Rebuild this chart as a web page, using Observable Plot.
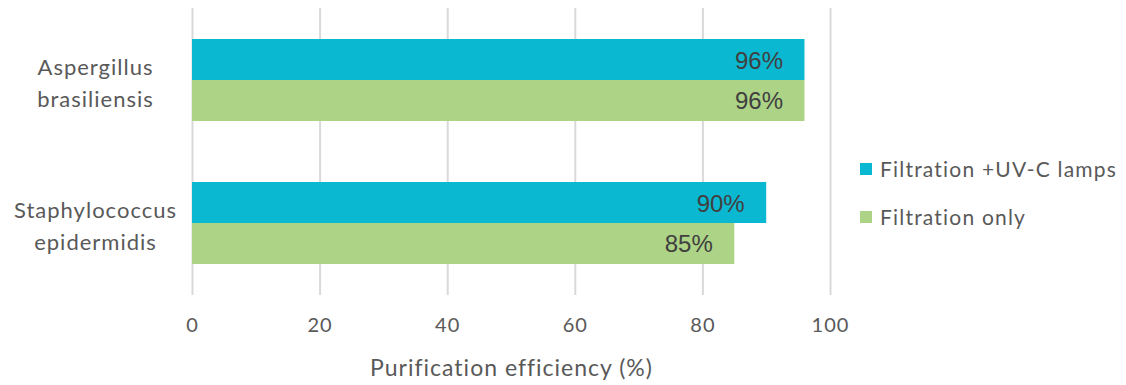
<!DOCTYPE html>
<html><head><meta charset="utf-8">
<script src="https://cdn.jsdelivr.net/npm/d3@7"></script>
<script src="https://cdn.jsdelivr.net/npm/@observablehq/plot@0.6"></script>
<style>
html,body{margin:0;padding:0;background:#fff;}
#wrap{position:relative;width:1126px;height:385px;}
.legend{position:absolute;left:860px;font-family:Lato,sans-serif;font-size:21px;color:#595959;letter-spacing:1.2px;display:flex;align-items:center;white-space:nowrap;}
.legend span.sw{display:inline-block;width:12px;height:12px;margin-right:8px;}
.vlab{letter-spacing:0;}
</style></head>
<body><div id="wrap"></div>
<script>
const categories = ["Aspergillus\nbrasiliensis", "Staphylococcus\nepidermidis"];
const series = ["Filtration +UV-C lamps", "Filtration only"];
const uvValues = [96, 90];
const filtOnlyValues = [96, 85];
const xTicks = [0, 20, 40, 60, 80, 100];
const colors = ["#0bb8d1", "#add386"];

const uvData = categories.map((c, i) => ({cat: c, v: uvValues[i]}));
const fData = categories.map((c, i) => ({cat: c, v: filtOnlyValues[i]}));

const chart = Plot.plot({
  width: 1126, height: 385,
  marginLeft: 192, marginRight: 296, marginTop: 8, marginBottom: 90,
  style: {fontFamily: "Lato, sans-serif", fontSize: "20px", color: "#595959", letterSpacing: "1px"},
  x: {domain: [0, 100], ticks: xTicks},
  y: {domain: categories, paddingInner: 0.43, paddingOuter: 0.215},
  marks: [
    Plot.gridX(xTicks, {stroke: "#d9d9d9", strokeOpacity: 1, strokeWidth: 2}),
    Plot.axisX(xTicks, {tickSize: 0, tickPadding: 22, fontSize: 20, fill: "#595959", label: null}),
    Plot.text(["Purification efficiency (%)"], {frameAnchor: "bottom", dy: 80, fontSize: 23, fill: "#595959"}),
    Plot.axisY({tickSize: 0, tickPadding: 97, textAnchor: "middle", fontSize: 22, fill: "#595959", lineHeight: 1.45, label: null}),
    Plot.barX(uvData, {x: "v", y: "cat", fill: colors[0], insetBottom: 41}),
    Plot.barX(fData, {x: "v", y: "cat", fill: colors[1], insetTop: 41}),
    Plot.text(uvData, {x: "v", y: "cat", text: d => d.v + "%", textAnchor: "end", dx: -22, dy: -19, fontFamily: "Liberation Sans, Arial, sans-serif", fontSize: 24, fill: "#404040", className: "vlab"}),
    Plot.text(fData, {x: "v", y: "cat", text: d => d.v + "%", textAnchor: "end", dx: -22, dy: 21, fontFamily: "Liberation Sans, Arial, sans-serif", fontSize: 24, fill: "#404040", className: "vlab"})
  ]
});
const wrap = document.getElementById("wrap");
wrap.appendChild(chart);
series.forEach((s, i) => {
  const d = document.createElement("div");
  d.className = "legend";
  d.style.top = (i === 0 ? 156 : 204) + "px";
  d.innerHTML = `<span class="sw" style="background:${colors[i]}"></span>${s}`;
  wrap.appendChild(d);
});
</script></body></html>
